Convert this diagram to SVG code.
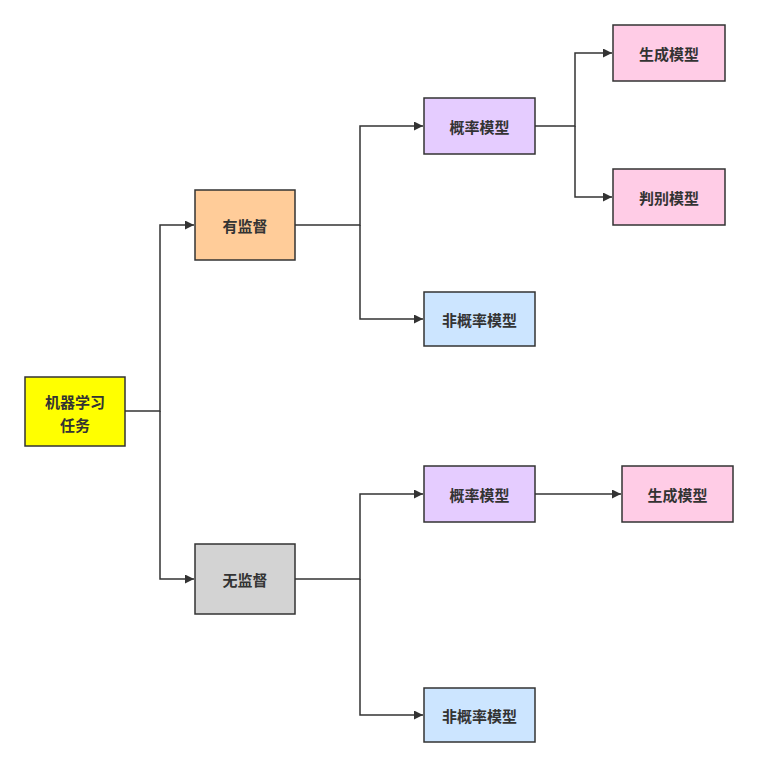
<svg xmlns="http://www.w3.org/2000/svg" width="758" height="767" viewBox="0 0 758 767">
<style>
.n rect{stroke:#333;stroke-width:1.5}
.n text{font-family:"Noto Sans CJK SC","Liberation Sans",sans-serif;font-size:15px;font-weight:bold;fill:#333;text-anchor:middle;dominant-baseline:central}
.c path{fill:none;stroke:#333;stroke-width:1.5}
</style>
<defs><marker id="a" viewBox="0 0 10 10" refX="10" refY="5" markerWidth="9" markerHeight="9" markerUnits="userSpaceOnUse" orient="auto"><path d="M0,0L10,5L0,10z" fill="#333"/></marker></defs>
<rect width="758" height="767" fill="#fff"/>
<g class="c">
<path d="M125,411H160V225H194" marker-end="url(#a)"/>
<path d="M160,411V579H194" marker-end="url(#a)"/>
<path d="M295,225H360V126H423" marker-end="url(#a)"/>
<path d="M360,225V319H423" marker-end="url(#a)"/>
<path d="M535,126H575V53H612" marker-end="url(#a)"/>
<path d="M575,126V197H612" marker-end="url(#a)"/>
<path d="M295,579H360V494H423" marker-end="url(#a)"/>
<path d="M360,579V715H423" marker-end="url(#a)"/>
<path d="M535,494H621" marker-end="url(#a)"/>
</g>
<g id="root" class="n"><rect x="25" y="377" width="100" height="69" fill="#FFFF00"/><text x="75" y="401">机器学习</text><text x="75" y="424">任务</text></g>
<g id="sup" class="n"><rect x="195" y="190" width="100" height="70" fill="#FFCC99"/><text x="245" y="225">有监督</text></g>
<g id="unsup" class="n"><rect x="195" y="544" width="100" height="70" fill="#D3D3D3"/><text x="245" y="579">无监督</text></g>
<g id="prob1" class="n"><rect x="424" y="98" width="111" height="56" fill="#E5CCFF"/><text x="479.5" y="126">概率模型</text></g>
<g id="nprob1" class="n"><rect x="424" y="292" width="111" height="54" fill="#CCE5FF"/><text x="479.5" y="319">非概率模型</text></g>
<g id="gen1" class="n"><rect x="613" y="25" width="112" height="56" fill="#FFCCE6"/><text x="669" y="53">生成模型</text></g>
<g id="disc" class="n"><rect x="613" y="169" width="112" height="56" fill="#FFCCE6"/><text x="669" y="197">判别模型</text></g>
<g id="prob2" class="n"><rect x="424" y="466" width="111" height="56" fill="#E5CCFF"/><text x="479.5" y="494">概率模型</text></g>
<g id="gen2" class="n"><rect x="622" y="466" width="111" height="56" fill="#FFCCE6"/><text x="677.5" y="494">生成模型</text></g>
<g id="nprob2" class="n"><rect x="424" y="688" width="111" height="54" fill="#CCE5FF"/><text x="479.5" y="715">非概率模型</text></g>
</svg>
